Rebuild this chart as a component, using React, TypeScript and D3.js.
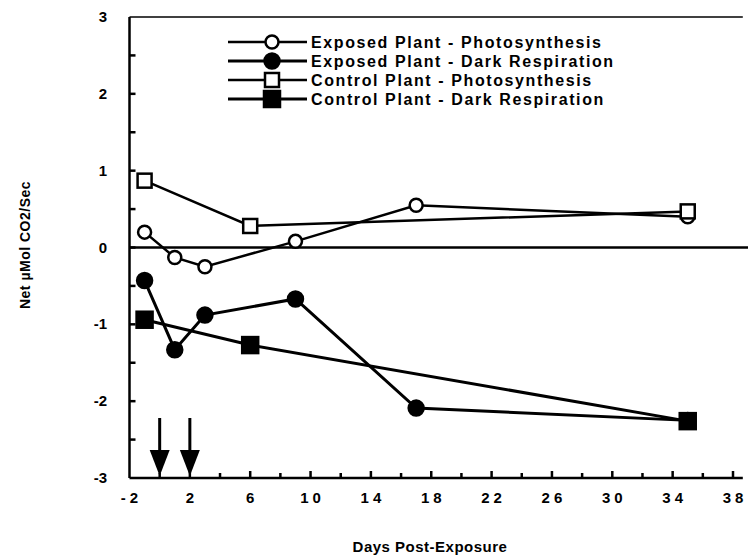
import React from "react";
import * as d3 from "d3";

const expPhotoDays = [-1, 1, 3, 9, 17, 35];
const expPhotoVals = [0.2, -0.13, -0.25, 0.08, 0.55, 0.4];
const expDarkDays = [-1, 1, 3, 9, 17, 35];
const expDarkVals = [-0.43, -1.33, -0.88, -0.67, -2.09, -2.25];
const ctlPhotoDays = [-1, 6, 35];
const ctlPhotoVals = [0.87, 0.28, 0.47];
const ctlDarkDays = [-1, 6, 35];
const ctlDarkVals = [-0.94, -1.27, -2.26];
const arrowDays = [0, 2];
const xTickLabels = [-2, 2, 6, 10, 14, 18, 22, 26, 30, 34, 38];
const yTickLabels = [3, 2, 1, 0, -1, -2, -3];
const legendLabels = [
  "Exposed Plant - Photosynthesis",
  "Exposed Plant - Dark Respiration",
  "Control Plant - Photosynthesis",
  "Control Plant - Dark Respiration",
];

const W = 748, H = 559;
const FONT = "'Liberation Sans', Arial, sans-serif";

export default function App() {
  const x = d3.scaleLinear().domain([-2, 38]).range([129.5, 733]);
  const y = d3.scaleLinear().domain([-3, 3]).range([478, 17]);
  const line = d3.line<[number, number]>().x(d => x(d[0])).y(d => y(d[1]));
  const zip = (a: number[], b: number[]) => a.map((v, i) => [v, b[i]] as [number, number]);

  const series = [
    { pts: zip(expPhotoDays, expPhotoVals), kind: "circle", fill: false, sw: 2.5 },
    { pts: zip(expDarkDays, expDarkVals), kind: "circle", fill: true, sw: 3 },
    { pts: zip(ctlPhotoDays, ctlPhotoVals), kind: "square", fill: false, sw: 2.5 },
    { pts: zip(ctlDarkDays, ctlDarkVals), kind: "square", fill: true, sw: 3 },
  ];

  const marker = (kind: string, fill: boolean, cx: number, cy: number, key: any) =>
    kind === "circle" ? (
      <circle key={key} cx={cx} cy={cy} r={fill ? 7.5 : 6.5} fill={fill ? "#000" : "#fff"} stroke="#000" strokeWidth={2.5} />
    ) : (
      <rect key={key} x={cx - (fill ? 8 : 7)} y={cy - (fill ? 8 : 7)} width={fill ? 16 : 14} height={fill ? 16 : 14}
        fill={fill ? "#000" : "#fff"} stroke="#000" strokeWidth={2.5} />
    );

  const minorTicks = d3.range(0, 39, 2);
  const halfTicks = d3.range(-2.5, 3, 0.5);
  const xEnd = x(38.65);

  return (
    <svg width={W} height={H} style={{ position: "absolute", left: 0, top: 0, background: "#fff" }}>
      <rect width={W} height={H} fill="#fff" />
      {/* frame */}
      <line x1={x(-2)} x2={xEnd} y1={y(3)} y2={y(3)} stroke="#000" strokeWidth={1.5} />
      <line x1={x(-2)} x2={x(-2)} y1={y(3)} y2={y(-3)} stroke="#000" strokeWidth={2.5} />
      <line x1={x(-2)} x2={xEnd} y1={y(-3)} y2={y(-3)} stroke="#000" strokeWidth={2.5} />
      <line x1={x(-2)} x2={W} y1={y(0)} y2={y(0)} stroke="#000" strokeWidth={2.5} />
      {/* ticks */}
      {minorTicks.map(d => (
        <line key={"xt" + d} x1={x(d)} x2={x(d)} y1={y(-3)} y2={y(-3) - ((d + 2) % 4 === 0 ? 7 : 5)} stroke="#000" strokeWidth={2.5} />
      ))}
      {halfTicks.map(v => (
        <line key={"yt" + v} x1={x(-2)} x2={x(-2) + 6} y1={y(v)} y2={y(v)} stroke="#000" strokeWidth={2.5} />
      ))}
      {xTickLabels.map(d => (
        <text key={"xl" + d} x={x(d) + 2} y={503} textAnchor="middle" fontFamily={FONT} fontWeight="bold" fontSize={15} letterSpacing={4}>
          {d < 0 ? "-" + Math.abs(d) : String(d)}
        </text>
      ))}
      {yTickLabels.map(v => (
        <text key={"yl" + v} x={107} y={y(v) + 5} textAnchor="end" fontFamily={FONT} fontWeight="bold" fontSize={15}>
          {v < 0 ? "-" + Math.abs(v) : String(v)}
        </text>
      ))}
      {/* arrows */}
      {arrowDays.map(d => (
        <g key={"ar" + d}>
          <line x1={x(d)} x2={x(d)} y1={418} y2={455} stroke="#000" strokeWidth={3} />
          <path d={`M${x(d) - 10},450 L${x(d) + 10},450 L${x(d)},476 Z`} fill="#000" />
        </g>
      ))}
      {/* series */}
      {series.map((s, i) => (
        <path key={"l" + i} d={line(s.pts) || ""} fill="none" stroke="#000" strokeWidth={s.sw} />
      ))}
      {series.map((s, i) => s.pts.map((p, j) => marker(s.kind, s.fill, x(p[0]), y(p[1]), "m" + i + "_" + j)))}
      {/* legend */}
      {series.map((s, i) => {
        const ly = 42 + i * 19;
        return (
          <g key={"lg" + i}>
            <line x1={228} x2={307} y1={ly} y2={ly} stroke="#000" strokeWidth={s.sw} />
            {marker(s.kind, s.fill, 272, ly, "lm" + i)}
            <text x={311} y={ly + 5.5} fontFamily={FONT} fontWeight="bold" fontSize={16} letterSpacing={1.6}>
              {legendLabels[i]}
            </text>
          </g>
        );
      })}
      {/* axis titles */}
      <text x={430} y={552} textAnchor="middle" fontFamily={FONT} fontWeight="bold" fontSize={15} letterSpacing={0.5}>
        Days Post-Exposure
      </text>
      <text transform={`translate(30,245) rotate(-90)`} textAnchor="middle" fontFamily={FONT} fontWeight="bold" fontSize={14} letterSpacing={0.5}>
        Net  µMol  CO2/Sec
      </text>
    </svg>
  );
}
